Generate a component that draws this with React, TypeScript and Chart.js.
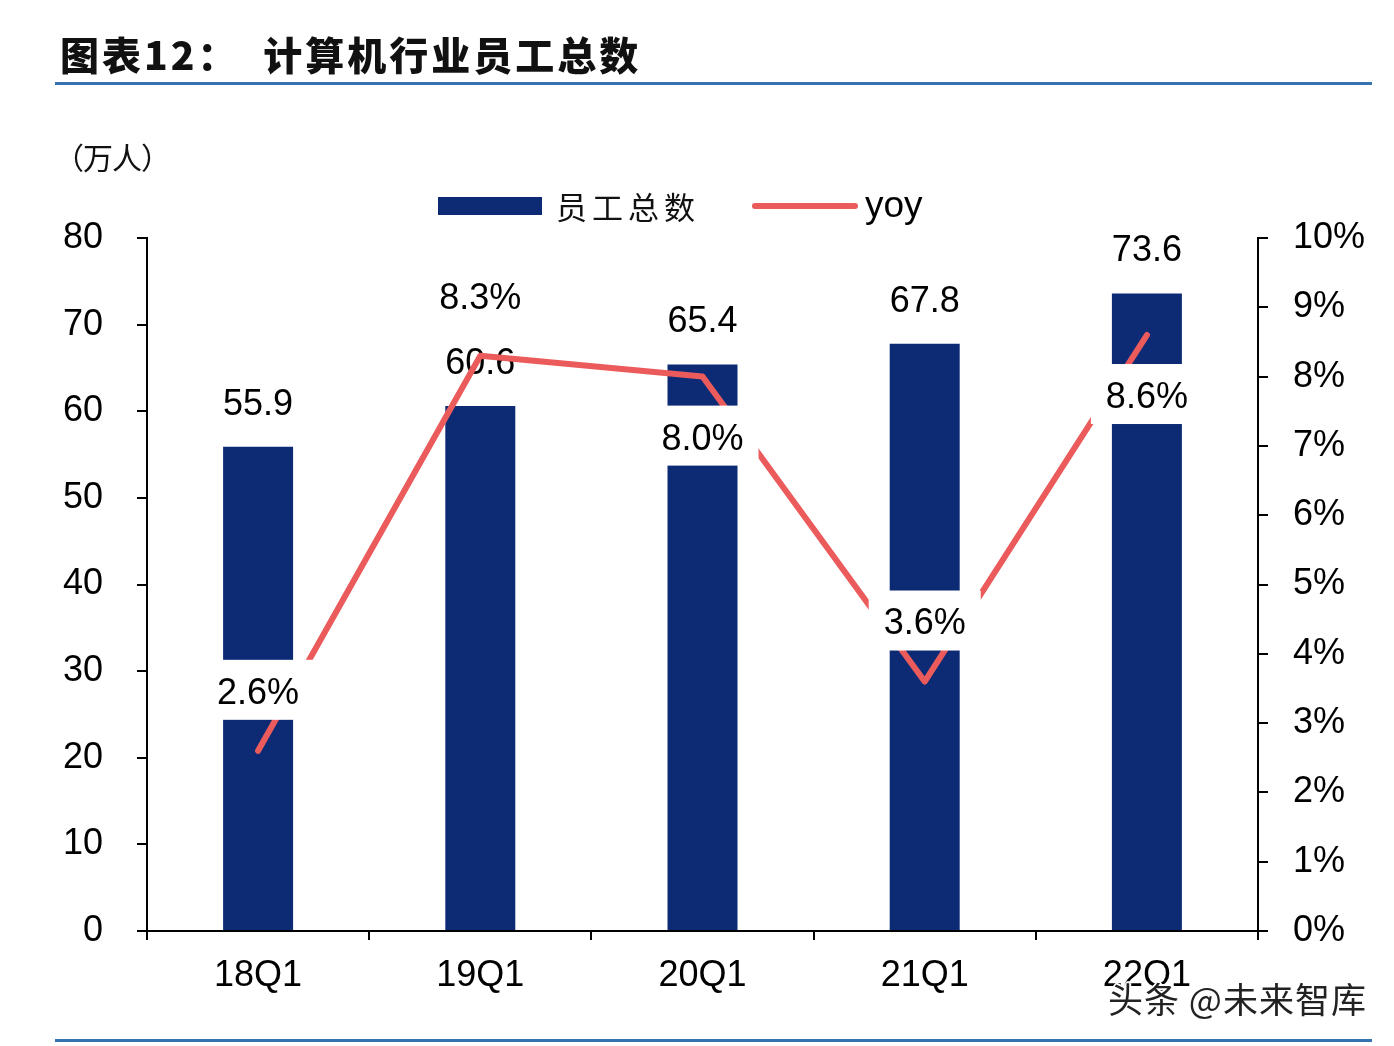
import React, { useEffect, useRef } from "react";
import { Chart, registerables } from "chart.js";

Chart.register(...registerables);

const categories = ["18Q1", "19Q1", "20Q1", "21Q1", "22Q1"];
const employees = [55.9, 60.6, 65.4, 67.8, 73.6];
const yoy = [2.6, 8.3, 8.0, 3.6, 8.6];
// -1: label above the point, 1: label below
const yoySide = [-1, -1, 1, -1, 1];

const BAR_COLOR = "#0c2b74";
const LINE_COLOR = "#ec5b5b";
const RULE_COLOR = "#3473b0";
const NUM_FONT = "Liberation Sans, Arial, sans-serif";
const CJK_FONT = "'Noto Sans CJK SC', sans-serif";
const FS = 36;

const labelPlugin = {
  id: "valueLabels",
  afterDatasetDraw(chart: any, args: any) {
    if (args.index !== 0) return;
    const ctx = chart.ctx;
    const meta = chart.getDatasetMeta(0);
    ctx.save();
    ctx.font = `${FS}px ${NUM_FONT}`;
    ctx.fillStyle = "#000";
    ctx.textAlign = "center";
    ctx.textBaseline = "middle";
    meta.data.forEach((el: any, i: number) => {
      ctx.fillText(employees[i].toFixed(1), el.x, el.y - 42);
    });
    ctx.restore();
  },
  afterDatasetsDraw(chart: any) {
    const ctx = chart.ctx;
    const meta = chart.getDatasetMeta(1);
    ctx.save();
    ctx.font = `${FS}px ${NUM_FONT}`;
    ctx.textAlign = "center";
    ctx.textBaseline = "middle";
    meta.data.forEach((pt: any, i: number) => {
      const text = yoy[i].toFixed(1) + "%";
      const y = pt.y + yoySide[i] * 60;
      const w = ctx.measureText(text).width + 30;
      ctx.fillStyle = "#fff";
      ctx.fillRect(pt.x - w / 2, y - 31, w, 60);
      ctx.fillStyle = "#000";
      ctx.fillText(text, pt.x, y + 3);
    });
    ctx.restore();
  },
};

export default function App() {
  const canvasRef = useRef<HTMLCanvasElement | null>(null);

  useEffect(() => {
    if (!canvasRef.current) return;
    const axisGrid = {
      drawOnChartArea: false,
      tickLength: 10,
      color: "#000",
      lineWidth: 2,
    };
    const chart = new Chart(canvasRef.current, {
      type: "bar",
      data: {
        labels: categories,
        datasets: [
          {
            type: "bar",
            label: "员工总数",
            data: employees,
            backgroundColor: BAR_COLOR,
            categoryPercentage: 1,
            barPercentage: 0.315,
            yAxisID: "y",
            order: 1,
          },
          {
            type: "line",
            label: "yoy",
            data: yoy,
            borderColor: LINE_COLOR,
            backgroundColor: LINE_COLOR,
            borderWidth: 6,
            pointRadius: 0,
            tension: 0,
            borderCapStyle: "round",
            borderJoinStyle: "round",
            yAxisID: "y1",
            order: 0,
          } as any,
        ],
      },
      options: {
        responsive: false,
        animation: false,
        devicePixelRatio: 1,
        layout: { padding: { top: 238, left: 0, right: 0, bottom: 0 } },
        plugins: {
          legend: { display: false },
          title: { display: false },
          tooltip: { enabled: false },
        },
        scales: {
          x: {
            offset: true,
            grid: { offset: true, drawOnChartArea: false, tickLength: 9, color: "#000", lineWidth: 2 },
            border: { color: "#000", width: 2 },
            ticks: { color: "#000", font: { size: FS, family: NUM_FONT }, padding: 14 },
            afterFit: (s: any) => {
              s.height = 115;
            },
          },
          y: {
            position: "left",
            min: 0,
            max: 80,
            ticks: { stepSize: 10, color: "#000", font: { size: FS, family: NUM_FONT }, padding: 34 },
            grid: axisGrid,
            border: { color: "#000", width: 2 },
            afterFit: (s: any) => {
              s.width = 147;
            },
          },
          y1: {
            position: "right",
            min: 0,
            max: 10,
            ticks: {
              stepSize: 1,
              color: "#000",
              font: { size: FS, family: NUM_FONT },
              padding: 25,
              callback: (v: any) => `${v}%`,
            },
            grid: axisGrid,
            border: { color: "#000", width: 2 },
            afterFit: (s: any) => {
              s.width = 136;
            },
          },
        },
      } as any,
      plugins: [labelPlugin],
    });
    return () => chart.destroy();
  }, []);

  return (
    <div
      style={{
        position: "absolute",
        left: 0,
        top: 0,
        width: 1394,
        height: 1046,
        background: "#fff",
        overflow: "hidden",
      }}
    >
      <canvas
        ref={canvasRef}
        width={1394}
        height={1046}
        style={{ position: "absolute", left: 0, top: 0, display: "block" }}
      />
      <div
        style={{
          position: "absolute",
          left: 60,
          top: 28,
          fontFamily: CJK_FONT,
          fontWeight: 900,
          fontSize: 39,
          lineHeight: "50px",
          color: "#111",
          whiteSpace: "pre",
          letterSpacing: 3,
        }}
      >
        图表12：  计算机行业员工总数
      </div>
      <div style={{ position: "absolute", left: 55, top: 82, width: 1317, height: 3, background: RULE_COLOR }} />
      <div style={{ position: "absolute", left: 55, top: 1039, width: 1317, height: 3, background: RULE_COLOR }} />
      <div
        style={{
          position: "absolute",
          left: 54,
          top: 136,
          fontFamily: CJK_FONT,
          fontSize: 30,
          lineHeight: "40px",
          letterSpacing: -1,
          color: "#111",
        }}
      >
        （万人）
      </div>
      {/* legend */}
      <div style={{ position: "absolute", left: 438, top: 197, width: 104, height: 18, background: BAR_COLOR }} />
      <div
        style={{
          position: "absolute",
          left: 556,
          top: 186,
          fontFamily: CJK_FONT,
          fontSize: 31,
          lineHeight: "40px",
          letterSpacing: 5,
          color: "#111",
        }}
      >
        员工总数
      </div>
      <div
        style={{
          position: "absolute",
          left: 752,
          top: 203,
          width: 106,
          height: 6,
          borderRadius: 3,
          background: LINE_COLOR,
        }}
      />
      <div
        style={{
          position: "absolute",
          left: 865,
          top: 185,
          fontFamily: NUM_FONT,
          fontSize: 37,
          lineHeight: "40px",
          color: "#000",
        }}
      >
        yoy
      </div>
      {/* watermark */}
      <div
        style={{
          position: "absolute",
          left: 1108,
          top: 976,
          fontFamily: CJK_FONT,
          fontSize: 35,
          lineHeight: "44px",
          color: "#222",
          whiteSpace: "pre",
          letterSpacing: 1,
          textShadow:
            "2px 0 0 #fff, -2px 0 0 #fff, 0 2px 0 #fff, 0 -2px 0 #fff, 1px 1px 0 #fff, -1px -1px 0 #fff, 1px -1px 0 #fff, -1px 1px 0 #fff",
        }}
      >
        头条 @未来智库
      </div>
    </div>
  );
}
